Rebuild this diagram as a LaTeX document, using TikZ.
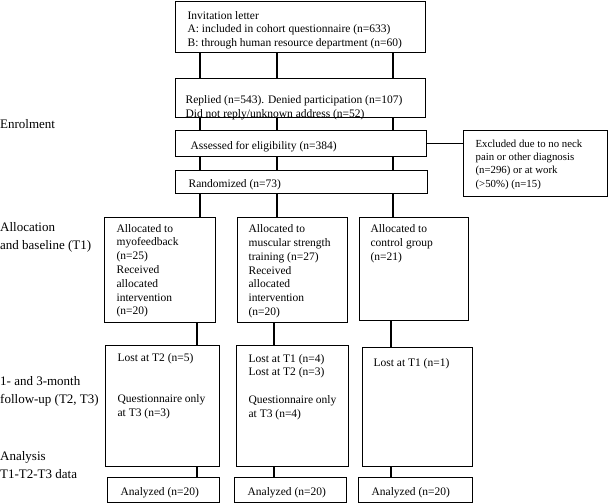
\documentclass[tikz,border=0pt]{standalone}
\usepackage{fontspec}
\setmainfont{Liberation Serif}
\tikzset{
  box/.style={draw, line width=1.2pt, inner sep=0pt, anchor=north west,
    font=\fontsize{11.5}{13.8}\selectfont},
  conn/.style={line width=1.2pt},
  side/.style={anchor=west, align=left, inner sep=0pt,
    font=\fontsize{13}{18}\selectfont}
}
% #1 name, #2 x, #3 y, #4 width, #5 height, #6 left pad, #7 first baseline, #8 text
\newcommand\bx[8]{\node[box] (#1) at (#2,#3)
  {\parbox[c][#5pt][t]{#4pt}{\raggedright\leftskip=#6pt\relax\rule{0pt}{#7pt}#8}};}
\begin{document}
\begin{tikzpicture}[x=1pt,y=-1pt]
\useasboundingbox (0,0) rectangle (610,503);

% enrolment boxes
\bx{inv}{175}{1}{250}{51}{12}{17.5}{Invitation letter\\A: included in cohort questionnaire (n=633)\\B: through human resource department (n=60)}
\bx{rep}{175}{78}{250}{39}{10}{25}{Replied (n=543). Denied participation (n=107)\\Did not reply/unknown address (n=52)}
\bx{ass}{175}{130}{251}{26}{15}{19}{Assessed for eligibility (n=384)}
\bx{exc}{463}{130}{144}{66}{12}{16.5}{\fontsize{10.8}{13.3}\selectfont Excluded due to no neck\\pain or other diagnosis\\(n=296) or at work\\(>50\%) (n=15)}
\bx{ran}{175}{170}{252}{23}{13}{16.5}{Randomized (n=73)}

% allocation
\bx{aA}{104}{217}{111}{105}{12}{14.5}{Allocated to\\myofeedback\\(n=25)\\Received\\allocated\\intervention\\(n=20)}
\bx{aB}{237}{217}{110}{105}{11}{15}{Allocated to\\muscular strength\\training (n=27)\\Received\\allocated\\intervention\\(n=20)}
\bx{aC}{359}{217}{109}{103}{11}{15}{Allocated to\\control group\\(n=21)}

% follow-up
\bx{fA}{105}{345}{114}{121}{12}{15.5}{Lost at T2 (n=5)\\[27.6pt]Questionnaire only\\at T3 (n=3)}
\bx{fB}{236}{345}{112}{121}{12}{16.5}{Lost at T1 (n=4)\\Lost at T2 (n=3)\\[13.8pt]Questionnaire only\\at T3 (n=4)}
\bx{fC}{362}{347}{110}{119}{11}{18.5}{Lost at T1 (n=1)}

% analysis
\bx{nA}{107}{477}{112}{25}{13}{18}{Analyzed (n=20)}
\bx{nB}{234}{477}{112}{25}{13}{18}{Analyzed (n=20)}
\bx{nC}{358}{477}{114}{25}{13}{18}{Analyzed (n=20)}

% column positions for connectors
\coordinate (v1) at (200,0);
\coordinate (v2) at (277,0);
\coordinate (v3) at (393,0);
\coordinate (w1) at (197,0);
\coordinate (w2) at (274,0);
\coordinate (w3) at (391,0);

\foreach \v in {v1,v2,v3}{
  \draw[conn] (inv.south -| \v) -- (rep.north -| \v);
  \draw[conn] (rep.south -| \v) -- (ass.north -| \v);
  \draw[conn] (ass.south -| \v) -- (ran.north -| \v);
}
\draw[conn] (ran.south -| v1) -- (aA.north -| v1);
\draw[conn] (ran.south -| v2) -- (aB.north -| v2);
\draw[conn] (ran.south -| v3) -- (aC.north -| v3);
\draw[conn] (ass.east) -- (exc.west |- ass.east);

\draw[conn] (aA.south -| w1) -- (fA.north -| w1);
\draw[conn] (aB.south -| w2) -- (fB.north -| w2);
\draw[conn] (aC.south -| w3) -- (fC.north -| w3);
\draw[conn] (fA.south -| w1) -- (nA.north -| w1);
\draw[conn] (fB.south -| w2) -- (nB.north -| w2);
\draw[conn] (fC.south -| w3) -- (nC.north -| w3);

% stage labels
\node[side] (l1) at (0,124) {Enrolment};
\node[side] (l2) at (0,237.5) {Allocation\\and baseline (T1)};
\node[side] (l3) at (0,391) {1- and 3-month\\follow-up (T2, T3)};
\node[side] (l4) at (0,465) {Analysis\\T1-T2-T3 data};
\end{tikzpicture}
\end{document}
